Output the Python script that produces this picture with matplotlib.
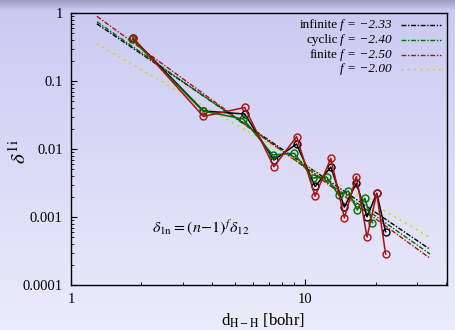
import numpy as np
import matplotlib
matplotlib.use("Agg")
import matplotlib.pyplot as plt
from matplotlib.transforms import offset_copy

plt.rcParams['font.family'] = ['Liberation Serif', 'DejaVu Serif']
plt.rcParams['mathtext.fontset'] = 'stix'

# ---- data ----
n_idx = [1, 2, 3, 4, 5, 6, 7, 8, 9, 10, 11, 12]
d_chain = [1.84, 3.68, 5.52, 7.36, 9.20, 11.04, 12.88, 14.72, 16.56, 18.40, 20.24, 22.08]
d_cyclic = [1.83, 3.66, 5.44, 7.27, 8.99, 10.79, 12.35, 13.9, 15.3, 16.7, 18.0, 19.4]

infinite = [0.422, 0.0362, 0.0327, 0.00689, 0.01185, 0.00281, 0.00543,
            0.00140, 0.00313, 0.00101, 0.00223, 0.000608]
cyclic = [0.408, 0.0362, 0.0276, 0.00816, 0.00865, 0.00375, 0.00388,
          0.00211, 0.00241, 0.00127, 0.00188, 0.000824]
finite = [0.433, 0.0301, 0.0408, 0.00549, 0.0152, 0.00202, 0.00730,
          0.000973, 0.00394, 0.000508, 0.00222, 0.000286]

fit_names = ['infinite', 'cyclic', 'finite', '']
fit_exponents = [-2.33, -2.40, -2.50, -2.00]
fit_prefactors = [1.256, 1.374, 1.690, 0.587]
fit_range = [1.29, 34.2]

xtick_vals = [1, 10]
xtick_labels = ['1', '10']
ytick_vals = [1e-4, 1e-3, 1e-2, 1e-1, 1]
ytick_labels = ['0.0001', '0.001', '0.01', '0.1', '1']

# ---- styles ----
c_black = '#000000'
c_green = '#007000'
c_red = '#b01010'
c_yellow = '#d8d400'
fit_colors = [c_black, c_green, c_red, c_yellow]
fit_dashes = [(3.5, 1.2, 1, 1.2), (3.5, 1.2, 1, 1.2), (3.5, 1.2, 1, 1.2), (1.5, 3)]

W, H = 455, 330
fig = plt.figure(figsize=(W / 100, H / 100), dpi=100)

# background gradient
bg = fig.add_axes([0, 0, 1, 1], zorder=-10)
rows = np.arange(H)
top = np.array([0.79, 0.79, 0.95])
bot = np.array([0.925, 0.925, 0.985])
t = rows / (H - 1)
grad = top[None, :] * (1 - t[:, None]) + bot[None, :] * t[:, None]
strip = np.clip((10 - rows) / 10, 0, 1)
dark = np.array([0.62, 0.62, 0.78])
grad = grad * (1 - strip[:, None]) + dark[None, :] * strip[:, None]
img = np.repeat(grad[:, None, :], 4, axis=1)
bg.imshow(img, aspect='auto', extent=[0, 1, 0, 1], origin='upper')
bg.axis('off')

ax = fig.add_axes([71 / W, 1 - 285 / H, (447 - 71) / W, (285 - 13) / H])
ax.set_facecolor('none')
ax.set_xscale('log')
ax.set_yscale('log')
ax.set_xlim(1, 40.4)
ax.set_ylim(1e-4, 1)

# fit lines
xf = np.array(fit_range)
for A, f, col, ds in zip(fit_prefactors, fit_exponents, fit_colors, fit_dashes):
    ax.plot(xf, A * xf ** f, color=col, lw=1.0, dashes=ds, zorder=2)

# data
ax.plot(d_chain, infinite, '-', color=c_black, lw=1.1, marker='o', ms=5,
        mfc='none', mec=c_black, mew=1.0, zorder=3)
ax.plot(d_cyclic, cyclic, '-', color=c_green, lw=1.1, marker='o', ms=5,
        mfc='none', mec=c_green, mew=1.0, zorder=4)
ax.plot(d_chain, finite, '-', color=c_red, lw=1.1, marker='o', ms=5,
        mfc='none', mec=c_red, mew=1.0, zorder=5)

# manual legend
renderer = fig.canvas.get_renderer()
ys_px = [25, 39.8, 54.6, 69.4]
x_txt = 392 / W
for name, f, col, ds, ypx in zip(fit_names, fit_exponents, fit_colors, fit_dashes, ys_px):
    yy = 1 - ypx / H
    t_it = fig.text(x_txt, yy, 'f = ' + ('%.2f' % f).replace('-', '\u2212'),
                    style='italic', ha='right', va='center', fontsize=9.5)
    if name:
        w = t_it.get_window_extent(renderer).width
        tr = offset_copy(fig.transFigure, fig=fig, x=-w - 2.5, y=0, units='dots')
        fig.text(x_txt, yy, name, transform=tr, ha='right', va='center', fontsize=9.5)
    ax.plot([401 / W, 441 / W], [yy, yy], transform=fig.transFigure, color=col, lw=1.0, dashes=ds)

fig.text(152 / W, 1 - 228 / H, r'$\delta_{\mathrm{1n}} = (n\!-\!1)^{f}\delta_{12}$',
         ha='left', va='center', fontsize=11.5)

ax.set_xticks(xtick_vals)
ax.set_xticklabels(xtick_labels)
ax.set_yticks(ytick_vals)
ax.set_yticklabels(ytick_labels)
ax.tick_params(which='major', direction='in', length=4, width=0.8, labelsize=10.5,
               top=False, right=False, pad=6)
ax.tick_params(which='minor', direction='in', length=2, width=0.6, top=False, right=False)
for s in ax.spines.values():
    s.set_linewidth(1.0)

fig.text(20 / W, 1 - 152 / H, r'$\delta^{\mathrm{1i}}$', rotation=90, ha='center', va='center', fontsize=15)
fig.text(263 / W, 1 - 321 / H, r'd$_{\mathrm{H-H}}$ [bohr]', ha='center', va='center', fontsize=12)

fig.savefig('out.png', dpi=100)
